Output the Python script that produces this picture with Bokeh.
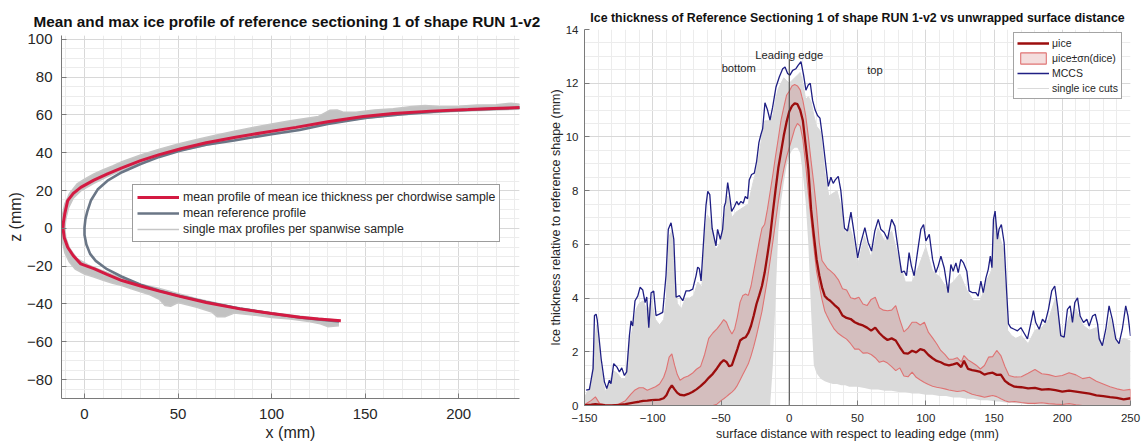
from bokeh.plotting import figure
from bokeh.layouts import row, column
from bokeh.models import Range1d, SingleIntervalTicker, Legend, LegendItem, ColumnDataSource
from bokeh.core.properties import value
from bokeh.embed import file_html
from bokeh.resources import INLINE

FONT = "Liberation Sans"
INK = "#262626"

# ---------------- left panel: profiles in the x-z plane (mm) ----------------
REF_X = [136, 125, 115, 100, 83, 65, 51, 40, 30, 20, 12, 6, 3, 1, 0, 0, 0.5, 1.5, 3.4, 7,
         12.3, 20, 30, 40, 51, 65, 80, 100, 115, 130, 150, 170, 190, 210, 233]
REF_Z = [-49.3, -48.2, -47.2, -45.0, -42.4, -39.0, -35.8, -33.0, -29.8, -25.6, -21.6, -17.2,
         -13.5, -8.5, -3.5, 0.5, 5.0, 9.0, 14.7, 20.5, 25.2, 29.7, 34.0, 37.8, 41.0, 44.2,
         46.5, 49.8, 52.0, 55.2, 58.4, 60.4, 61.9, 62.9, 63.8]

MEAN_X = [137, 125, 115, 100, 83, 65, 51, 40, 30, 20, 12, 5, -2, -6, -9, -10.8, -11.5, -11.3,
          -10.5, -9, -6, -2, 5, 12.3, 20, 30, 40, 51, 65, 80, 95, 113, 130, 149, 165, 185,
          205, 222, 233]
MEAN_Z = [-48.9, -48.0, -47.0, -45.0, -42.6, -39.2, -36.0, -33.2, -30.5, -27.6, -24.3, -21.3,
          -18.8, -14.5, -10.0, -5.0, 0.0, 3.0, 8.0, 14.7, 18.5, 21.7, 25.5, 28.8, 32.0, 35.8,
          39.0, 42.0, 45.3, 48.0, 50.6, 53.4, 56.4, 59.1, 60.7, 62.0, 62.8, 63.5, 63.9]

# envelope of the single max profiles (outer and inner edge, bottom end to top end)
MAXP_OUT_X = [136, 130, 126, 120, 110, 100, 90, 80, 75, 71, 68, 60, 50, 46, 43, 40, 35, 30,
              25, 20, 15, 10, 5, 0, -5, -8, -10.5, -12, -12.3, -12, -10.5, -8, -4, 0, 5, 10,
              15, 20, 30, 40, 50, 60, 70, 80, 90, 100, 110, 125, 131, 135, 138, 145, 155,
              165, 175, 182, 190, 200, 210, 220, 228, 233]
MAXP_OUT_Z = [-51.5, -52.0, -50.5, -49.3, -48.0, -47.2, -45.8, -44.8, -46.8, -46.8, -44.2,
              -41.8, -39.2, -41.2, -40.8, -37.5, -35.2, -33.5, -32.0, -30.2, -29.0, -27.5,
              -25.8, -24.2, -21.5, -18.0, -13.0, -6.0, 0.0, 6.0, 13.0, 18.5, 23.5, 26.0,
              28.8, 31.0, 33.0, 35.2, 38.8, 41.8, 44.6, 47.0, 49.3, 51.4, 53.4, 55.2, 56.9,
              59.2, 62.4, 62.6, 61.6, 61.4, 62.6, 63.2, 64.5, 65.0, 64.4, 64.6, 65.2, 65.4,
              66.2, 65.6]
MAXP_IN_X = [136, 120, 100, 80, 60, 40, 30, 20, 10, 2, -4, -8, -10, -10.5, -10, -8.5, -6,
             -2, 5, 12, 20, 30, 40, 50, 65, 80, 100, 120, 140, 160, 180, 200, 220, 233]
MAXP_IN_Z = [-48.6, -47.0, -44.6, -41.6, -37.2, -31.8, -29.5, -26.4, -22.6, -19.4, -16.0,
             -10.5, -5.0, 0.0, 5.0, 11.0, 16.0, 19.8, 23.8, 27.3, 30.8, 34.8, 38.0, 40.8,
             44.0, 46.8, 50.2, 53.5, 56.9, 59.3, 60.8, 61.9, 62.6, 63.0]

# ---------------- right panel: thickness vs surface distance (mm) ----------------
CUTS_X = [-150, -148, -145, -143, -141, -138, -135, -132, -129, -126, -123, -120, -117, -115,
          -112, -110, -107, -104, -101, -98, -95, -92, -90, -88, -86, -84, -82, -79, -76, -73,
          -70, -67, -64, -62, -60, -57, -54, -51, -48, -45, -42, -39, -36, -33, -30, -27,
          -24, -21, -18, -15, -14, -12, -10, -8, -6, -4, -2, 0, 2, 4, 6, 8, 10, 12, 14, 16,
          18, 20, 23, 26, 29, 32, 35, 38, 41, 44, 47, 50, 55, 60, 65, 70, 75, 80, 85, 90, 95,
          100, 105, 110, 115, 120, 125, 130, 135, 140, 145, 148, 151, 154, 157, 160, 163, 166,
          170, 175, 180, 185, 190, 195, 200, 205, 210, 215, 220, 225, 230, 235, 240, 245, 250]
CUTS_HI = [0.3, 0.5, 0.8, 2.2, 3.0, 1.5, 0.5, 0.8, 1.3, 1.2, 1.0, 1.0, 2.4, 2.8, 3.6, 3.8,
           3.9, 3.5, 3.9, 3.2, 3.0, 3.2, 4.0, 6.3, 6.5, 5.0, 3.8, 3.6, 4.0, 4.0, 4.1, 4.6,
           4.4, 6.3, 7.1, 6.8, 5.8, 6.0, 6.9, 7.8, 7.0, 7.2, 7.3, 7.4, 7.5, 8.2, 8.8, 9.7,
           10.6, 10.6, 10.7, 10.8, 11.4, 11.8, 12.0, 12.2, 12.1, 12.0, 12.1, 12.2, 12.3, 12.4,
           12.0, 11.4, 11.5, 11.3, 10.8, 10.4, 10.2, 8.7, 7.8, 7.9, 8.0, 7.4, 6.4, 6.7, 6.2,
           5.2, 6.3, 5.5, 6.6, 6.1, 6.5, 5.5, 4.6, 4.6, 5.2, 5.9, 5.0, 4.8, 4.4, 4.6, 4.9,
           4.3, 3.9, 3.9, 4.7, 5.0, 6.9, 6.3, 5.8, 2.8, 2.6, 2.5, 2.6, 2.3, 2.8, 2.9, 3.2,
           4.0, 2.4, 3.3, 3.6, 3.0, 2.8, 2.9, 2.1, 3.3, 2.3, 2.5, 2.4]
CUTS_LO = [0, 0, 0, 0, 0, 0, 0, 0, 0, 0, 0, 0, 0, 0, 0, 0, 0, 0, 0, 0, 0, 0, 0, 0, 0, 0, 0,
           0, 0, 0, 0, 0, 0, 0, 0, 0, 0, 0, 0, 0, 0, 0, 0, 0, 0, 0, 0, 0, 0, 0, 0, 1.5, 4.0,
           6.5, 7.6, 8.3, 8.9, 9.3, 9.5, 9.6, 9.6, 9.4, 8.6, 7.6, 6.0, 3.5, 1.5, 1.2, 1.0,
           0.9, 0.85, 0.8, 0.8, 0.75, 0.75, 0.7, 0.7, 0.7, 0.65, 0.6, 0.6, 0.55, 0.55, 0.5,
           0.5, 0.45, 0.45, 0.4, 0.4, 0.35, 0.35, 0.3, 0.3, 0.25, 0.25, 0.2, 0.2, 0.18, 0.15,
           0.15, 0.12, 0.1, 0.1, 0.08, 0.07, 0.05, 0.04, 0.03, 0.02, 0, 0, 0, 0, 0, 0, 0, 0,
           0, 0, 0, 0]

SIGMA_X = [-150, -145, -142, -139, -135, -130, -125, -120, -116, -113, -110, -107, -104, -101,
           -98, -95, -92, -90, -88, -86, -84, -82, -80, -77, -74, -71, -68, -65, -62, -59, -56,
           -53, -50, -48, -46, -44, -42, -40, -38, -36, -34, -32, -30, -28, -26, -24, -22,
           -20, -18, -16, -14, -12, -10, -8, -6, -4, -2, 0, 2, 4, 6, 8, 10, 12, 14, 16, 18,
           20, 22, 24, 26, 28, 30, 33, 36, 39, 42, 45, 48, 51, 54, 57, 60, 63, 66, 69, 72,
           75, 78, 81, 84, 87, 90, 93, 96, 99, 102, 105, 108, 111, 114, 117, 120, 123, 126,
           128, 131, 134, 137, 140, 143, 146, 149, 152, 155, 158, 161, 165, 170, 175, 180,
           185, 190, 195, 200, 205, 210, 215, 220, 225, 230, 235, 240, 245, 250]
MU_ICE = [0.01, 0.03, 0.05, 0.03, 0.01, 0.0, 0.02, 0.05, 0.09, 0.12, 0.14, 0.17, 0.18, 0.2,
          0.21, 0.22, 0.27, 0.38, 0.6, 0.75, 0.6, 0.47, 0.4, 0.38, 0.43, 0.5, 0.6, 0.72, 0.86,
          1.03, 1.18, 1.38, 1.6, 1.69, 1.62, 1.46, 1.5, 1.8, 2.1, 2.42, 2.5, 2.54, 2.7, 2.97,
          3.35, 3.78, 4.1, 4.45, 4.95, 5.6, 6.3, 7.2, 8.05, 8.85, 9.45, 10.05, 10.55, 10.95,
          11.15, 11.25, 11.22, 11.0, 10.6, 9.7, 8.8, 7.3, 6.35, 5.45, 4.85, 4.4, 4.08, 3.97,
          3.9, 3.75, 3.62, 3.35, 3.26, 3.22, 3.1, 3.03, 2.98, 2.9, 2.79, 2.9, 2.7, 2.55, 2.44,
          2.5, 2.42, 2.17, 1.95, 1.93, 2.04, 1.98, 2.1, 2.05, 1.88, 1.76, 1.66, 1.61, 1.53,
          1.49, 1.53, 1.58, 1.43, 1.67, 1.36, 1.32, 1.29, 1.25, 1.15, 1.2, 1.22, 1.14, 1.15,
          0.92, 0.8, 0.7, 0.68, 0.64, 0.66, 0.59, 0.61, 0.57, 0.52, 0.55, 0.52, 0.48, 0.44,
          0.38, 0.35, 0.31, 0.28, 0.23, 0.27]
MU_PLUS_SIGMA = [0.03, 0.19, 0.32, 0.08, 0.02, 0.01, 0.05, 0.18, 0.42, 0.58, 0.66, 0.66,
                 0.57, 0.63, 0.7, 0.8, 1.05, 1.35, 1.8, 1.92, 1.5, 1.15, 0.94, 1.04, 1.1, 1.2,
                 1.35, 1.45, 1.9, 2.5, 2.7, 2.85, 3.05, 3.2, 3.1, 2.85, 2.66, 2.85, 3.3, 3.85,
                 4.1, 4.15, 4.1, 4.45, 5.0, 5.55, 6.1, 6.6, 6.75, 7.3, 7.95, 8.6, 9.3, 9.95,
                 10.63, 11.1, 11.55, 11.7, 11.9, 11.95, 11.9, 11.75, 11.35, 10.8, 10.0, 9.1,
                 8.25, 7.3, 6.06, 5.4, 5.25, 5.1, 5.02, 4.88, 4.68, 4.35, 4.3, 4.01, 3.97, 4.03,
                 3.78, 3.72, 3.95, 4.03, 3.64, 3.55, 3.53, 3.55, 3.72, 3.2, 2.74, 2.88, 3.1,
                 3.1, 3.0, 3.1, 2.72, 2.52, 2.3, 2.05, 1.9, 1.72, 1.72, 1.78, 1.62, 1.86, 1.7,
                 1.6, 1.5, 1.36, 1.49, 1.8, 1.82, 2.05, 1.86, 1.45, 1.12, 1.06, 1.07, 1.2, 1.34,
                 1.18, 1.15, 1.08, 1.12, 1.22, 1.14, 1.0, 1.05, 0.9, 0.8, 0.7, 0.62, 0.57, 0.6]
MU_MINUS_SIGMA = [0, 0, 0, 0, 0, 0, 0, 0, 0, 0, 0, 0, 0, 0, 0, 0, 0, 0, 0, 0, 0, 0, 0, 0, 0,
                  0, 0, 0, 0, 0, 0, 0.05, 0.18, 0.25, 0.33, 0.42, 0.5, 0.6, 0.75, 0.95, 1.15,
                  1.35, 1.55, 1.85, 2.2, 2.6, 3.05, 3.5, 4.1, 4.7, 5.4, 6.1, 6.85, 7.6, 8.25,
                  8.8, 9.25, 9.6, 9.95, 10.3, 10.5, 10.4, 9.9, 9.0, 7.9, 6.9, 5.9, 5.0, 4.46,
                  3.95, 3.52, 3.3, 3.1, 2.84, 2.68, 2.57, 2.47, 2.3, 2.1, 2.1, 1.95, 1.96, 1.9,
                  1.78, 1.61, 1.66, 1.58, 1.45, 1.3, 1.4, 1.1, 1.07, 1.24, 1.05, 0.95, 0.86,
                  0.78, 0.72, 0.68, 0.65, 0.62, 0.58, 0.55, 0.52, 0.54, 0.56, 0.48, 0.42, 0.38,
                  0.35, 0.31, 0.34, 0.37, 0.33, 0.25, 0.18, 0.13, 0.15, 0.11, 0.08, 0.08, 0.1,
                  0.07, 0.05, 0.04, 0.07, 0.03, 0.0, 0, 0, 0, 0, 0, 0, 0]

MCCS_X = [-148.8, -146.4, -143.7, -142.7, -141.5, -140.7, -137.8, -135.4, -133.7, -131.8,
          -130.6, -128.6, -126.2, -124.4, -122.7, -120.8, -119.1, -117.1, -115.9, -114.7,
          -113.0, -111.0, -109.3, -107.3, -105.6, -104.4, -102.9, -101.2, -99.3, -97.6, -95.2,
          -92.7, -90.3, -88.6, -86.6, -84.6, -82.9, -80.5, -78.0, -75.6, -73.2, -70.7, -68.3,
          -67.1, -65.9, -64.6, -62.2, -61.0, -59.7, -58.2, -56.5, -53.7, -52.5, -50.5, -48.8,
          -47.6, -46.6, -45.1, -43.9, -42.2, -40.2, -38.5, -37.1, -35.4, -33.7, -32.2, -30.5,
          -29.3, -27.6, -25.6, -23.9, -22.2, -20.7, -19.5, -17.8, -15.9, -14.1, -12.2, -9.7,
          -7.3, -4.8, -3.1, -1.2, 0.5, 2.5, 4.9, 6.6, 8.6, 10.5, 12.2, 13.9, 15.4, 17.1, 19.0,
          20.7, 22.5, 24.5, 26.9, 28.6, 30.5, 32.2, 33.7, 35.9, 37.8, 39.5, 40.5, 42.7, 45.2,
          47.1, 50.1, 52.5, 55.4, 57.8, 60.3, 62.7, 65.2, 67.1, 69.6, 72.0, 75.0, 77.4, 79.8,
          82.3, 84.2, 85.9, 87.8, 89.5, 91.5, 93.9, 96.4, 98.4, 100.1, 102.6, 105.0, 107.4,
          109.1, 111.1, 113.5, 116.4, 118.4, 120.1, 122.1, 123.8, 125.7, 127.7, 130.1, 131.8,
          134.3, 136.7, 138.4, 140.4, 142.1, 144.1, 145.8, 147.3, 148.5, 149.6, 150.8, 152.5,
          153.7, 155.4, 157.4, 159.3, 160.6, 162.3, 164.8, 167.2, 169.7, 172.1, 174.5, 176.9,
          178.9, 180.6, 183.1, 185.5, 187.5, 189.9, 192.3, 194.5, 196.5, 198.9, 201.4, 203.8,
          205.8, 207.5, 209.2, 211.2, 213.1, 215.6, 218.0, 219.7, 222.2, 224.2, 225.9, 227.1,
          229.4, 231.9, 234.3, 236.7, 239.2, 241.6, 244.0, 246.5, 248.2, 250.0]
MCCS_Y = [0.57, 0.6, 1.37, 3.35, 3.4, 3.2, 1.74, 0.88, 0.63, 0.94, 0.81, 1.56, 1.43, 1.25,
          1.4, 1.12, 1.25, 2.6, 3.15, 2.96, 3.9, 4.07, 4.4, 4.3, 3.83, 4.04, 2.9, 4.2, 4.26,
          3.35, 3.4, 3.47, 4.83, 6.56, 6.8, 6.2, 4.03, 4.09, 3.9, 4.27, 4.27, 4.33, 4.83, 5.15,
          5.1, 4.64, 6.56, 7.45, 7.97, 7.85, 6.6, 5.94, 6.56, 6.19, 6.56, 7.4, 7.57, 8.3, 7.9,
          7.23, 7.4, 7.6, 7.47, 7.6, 7.53, 7.78, 7.7, 8.4, 8.6, 8.65, 9.09, 9.8, 10.1, 10.3,
          11.27, 11.0, 10.63, 11.1, 11.86, 12.23, 12.54, 12.6, 12.36, 12.3, 12.48, 12.54,
          12.67, 12.8, 12.3, 11.74, 11.93, 12.0, 11.36, 11.0, 10.8, 10.7, 9.95, 8.9, 8.16,
          8.5, 8.27, 8.4, 8.53, 8.0, 7.1, 6.6, 6.5, 7.2, 6.56, 5.5, 6.07, 6.62, 6.07, 5.75,
          6.5, 6.93, 6.56, 6.44, 6.19, 6.93, 6.68, 5.81, 4.95, 5.01, 4.83, 5.69, 5.19, 4.83,
          5.69, 6.56, 6.74, 6.13, 6.37, 5.44, 4.95, 5.19, 5.56, 5.13, 4.2, 5.25, 5.0, 5.31,
          4.95, 5.44, 5.31, 5.0, 4.27, 4.2, 4.2, 4.07, 4.63, 4.2, 4.75, 5.07, 5.56, 5.13,
          6.93, 7.24, 6.19, 6.56, 6.74, 6.07, 4.2, 3.04, 2.9, 2.84, 2.78, 2.9, 2.69, 2.48,
          3.04, 3.53, 3.09, 2.84, 3.21, 3.09, 3.58, 4.27, 4.45, 3.71, 2.6, 2.54, 3.58, 3.71,
          3.09, 3.83, 4.01, 3.33, 3.09, 3.21, 2.96, 3.33, 3.4, 3.03, 2.48, 2.23, 2.84, 3.71,
          3.21, 2.48, 2.3, 2.84, 3.71, 3.33, 2.59]

LEADING_EDGE_X = [0]
LEADING_EDGE_TOP = [12.9]
REGION_TEXT = ["Leading edge", "bottom", "top"]
REGION_X = [0, -37, 62.8]
REGION_Y = [13.05, 12.55, 12.5]


def style_axis(ax, tick_px, label_px, tick_standoff, label_standoff, interval, minor):
    ax.ticker = SingleIntervalTicker(interval=interval, num_minor_ticks=minor)
    ax.major_label_text_font = FONT
    ax.major_label_text_font_size = tick_px
    ax.major_label_text_color = INK
    ax.major_label_standoff = tick_standoff
    ax.axis_label_text_font = FONT
    ax.axis_label_text_font_size = label_px
    ax.axis_label_text_font_style = "normal"
    ax.axis_label_text_color = INK
    ax.axis_label_standoff = label_standoff
    ax.axis_line_color = "#7a7a7a"
    ax.axis_line_width = 1
    ax.major_tick_line_color = "#7a7a7a"
    ax.major_tick_in = 5
    ax.major_tick_out = 0
    ax.minor_tick_line_color = None


def style_grid(p):
    for g in (p.xgrid[0], p.ygrid[0]):
        g.grid_line_color = "#d8d8d8"
        g.grid_line_width = 1
        g.minor_grid_line_color = "#ececec"
        g.minor_grid_line_width = 1


# ---------------- left figure ----------------
left = figure(width=541, height=443, output_backend="svg", toolbar_location=None,
              x_range=Range1d(-12.3, 232.5), y_range=Range1d(-90, 102),
              min_border_left=61, min_border_right=22, min_border_top=35,
              min_border_bottom=45)
left.outline_line_color = None
left.background_fill_color = "white"
left.border_fill_color = "white"
left.title.text = "Mean and max ice profile of reference sectioning 1 of shape RUN 1-v2"
left.title.text_font = FONT
left.title.text_font_size = "15.3px"
left.title.text_font_style = "bold"
left.title.text_color = "#111111"
left.title.align = "left"
left.title.offset = -28
left.title.standoff = 11

left.xaxis.axis_label = "x (mm)"
left.yaxis.axis_label = "z (mm)"
style_axis(left.xaxis[0], "15px", "16px", 6, 2, 50, 5)
style_axis(left.yaxis[0], "15px", "16px", 5, 0, 20, 4)
style_grid(left)

band_xs = MAXP_OUT_X + MAXP_IN_X[::-1]
band_zs = MAXP_OUT_Z + MAXP_IN_Z[::-1]
left.patch(band_xs, band_zs, fill_color="#c2c2c2", line_color=None)
maxp_line = left.line(MAXP_OUT_X, MAXP_OUT_Z, line_color="#c6c6c6", line_width=1.5)
left.line(MAXP_IN_X, MAXP_IN_Z, line_color="#c6c6c6", line_width=1.5)
ref_line = left.line(REF_X, REF_Z, line_color="#6a7686", line_width=2.6)
mean_line = left.line(MEAN_X, MEAN_Z, line_color="#d41a42", line_width=3)

leg_l = Legend(items=[
    LegendItem(label="mean profile of mean ice thickness per chordwise sample", renderers=[mean_line]),
    LegendItem(label="mean reference profile", renderers=[ref_line]),
    LegendItem(label="single max profiles per spanwise sample", renderers=[maxp_line]),
], location=(71, 156))
leg_l.label_text_font = FONT
leg_l.label_text_font_size = "12.3px"
leg_l.label_text_color = INK
leg_l.label_height = 16
leg_l.glyph_height = 16
leg_l.glyph_width = 42
leg_l.label_standoff = 4
leg_l.padding = 4
leg_l.spacing = 0
leg_l.margin = 0
leg_l.border_line_color = "#3a3a3a"
leg_l.border_line_width = 1
leg_l.background_fill_color = "white"
leg_l.background_fill_alpha = 1
left.add_layout(leg_l)

# ---------------- right figure ----------------
right = figure(width=600, height=443, output_backend="svg", toolbar_location=None,
               x_range=Range1d(-150, 250), y_range=Range1d(0, 14),
               min_border_left=43, min_border_right=11, min_border_top=29,
               min_border_bottom=36)
right.outline_line_color = None
right.background_fill_color = "white"
right.border_fill_color = "white"
right.title.text = ("Ice thickness of Reference Sectioning 1 of shape RUN 1-v2 "
                    "vs unwrapped surface distance")
right.title.text_font = FONT
right.title.text_font_size = "12.4px"
right.title.text_font_style = "bold"
right.title.text_color = "#111111"
right.title.align = "center"
right.title.standoff = 9

right.xaxis.axis_label = "surface distance with respect to leading edge (mm)"
right.yaxis.axis_label = "Ice thickness relative to reference shape (mm)"
style_axis(right.xaxis[0], "11.5px", "12.5px", 4, 2, 50, 5)
style_axis(right.yaxis[0], "11.5px", "12.5px", 2, 0, 2, 4)
style_grid(right)

right.varea(x=CUTS_X, y1=CUTS_LO, y2=CUTS_HI, fill_color="#dadada")
cuts_line = right.line(CUTS_X, CUTS_HI, line_color="#dadada", line_width=1)

sig_xs = SIGMA_X + SIGMA_X[::-1]
sig_ys = MU_PLUS_SIGMA + MU_MINUS_SIGMA[::-1]
sigma_band = right.patch(sig_xs, sig_ys, fill_color="#b22222", fill_alpha=0.15,
                         line_color="#df7373", line_width=1.1)
mu_line = right.line(SIGMA_X, MU_ICE, line_color="#9c0d0d", line_width=2.3)
mccs_line = right.line(MCCS_X, MCCS_Y, line_color="#1f1f84", line_width=1.3)
right.segment(x0=LEADING_EDGE_X, y0=[0], x1=LEADING_EDGE_X, y1=LEADING_EDGE_TOP,
              line_color="#3c3c3c", line_width=1)

right.text(x="x", y="y", text="t",
           source=ColumnDataSource(dict(x=REGION_X, y=REGION_Y, t=REGION_TEXT)),
           text_font=value(FONT), text_font_size="11.2px", text_color=INK,
           text_align="center", text_baseline="middle")

leg_r = Legend(items=[
    LegendItem(label="μice", renderers=[mu_line]),
    LegendItem(label="μice±σn(dice)", renderers=[sigma_band]),
    LegendItem(label="MCCS", renderers=[mccs_line]),
    LegendItem(label="single ice cuts", renderers=[cuts_line]),
], location=(429, 306))
leg_r.label_text_font = FONT
leg_r.label_text_font_size = "10.5px"
leg_r.label_text_color = INK
leg_r.label_height = 14
leg_r.glyph_height = 14
leg_r.glyph_width = 32
leg_r.label_standoff = 3
leg_r.padding = 3
leg_r.spacing = 1
leg_r.margin = 0
leg_r.border_line_color = "#4a4a4a"
leg_r.border_line_width = 1
leg_r.background_fill_color = "white"
leg_r.background_fill_alpha = 1
right.add_layout(leg_r)

# each panel sits in its own column so the two frames keep their own geometry
layout = row(column(left), column(right))
open("out.html", "w").write(file_html(layout, INLINE))
